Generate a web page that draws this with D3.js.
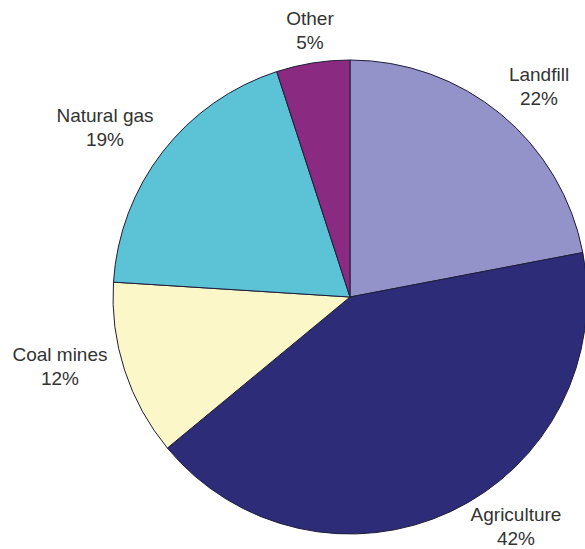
<!DOCTYPE html>
<html><head><meta charset="utf-8">
<script src="https://cdn.jsdelivr.net/npm/d3@7"></script>
<style>html,body{margin:0;padding:0;background:#fff;overflow:hidden}</style>
</head><body><div id="chart"></div>
<script>
const categories = ["Landfill", "Agriculture", "Coal mines", "Natural gas", "Other"];
const values = [22, 42, 12, 19, 5];
const colors = ["#9392c9", "#2d2c78", "#fcf7c8", "#5cc3d6", "#8a2a80"];
// label anchor positions (layout only): centre x, first baseline y
const labelAnchors = [[539, 81], [516, 521], [60, 361], [105, 122], [310, 25]];

const W = 585, H = 549, cx = 350, cy = 297, R = 237;
const svg = d3.select("#chart").append("svg").attr("width", W).attr("height", H);
const g = svg.append("g").attr("transform", `translate(${cx},${cy})`);
const pie = d3.pie().sort(null).value(d => d)(values);
const arc = d3.arc().innerRadius(0).outerRadius(R);
g.selectAll("path").data(pie).join("path")
  .attr("d", arc)
  .attr("fill", (d, i) => colors[i])
  .attr("stroke", "#1e1e3a").attr("stroke-width", 1);

const lab = svg.append("g").attr("font-family", "Liberation Sans, Arial, sans-serif")
  .attr("font-size", 19).attr("fill", "#333").attr("text-anchor", "middle");
categories.forEach((c, i) => {
  const [x, y] = labelAnchors[i];
  lab.append("text").attr("x", x).attr("y", y).text(c);
  lab.append("text").attr("x", x).attr("y", y + 24).text(values[i] + "%");
});
</script></body></html>
